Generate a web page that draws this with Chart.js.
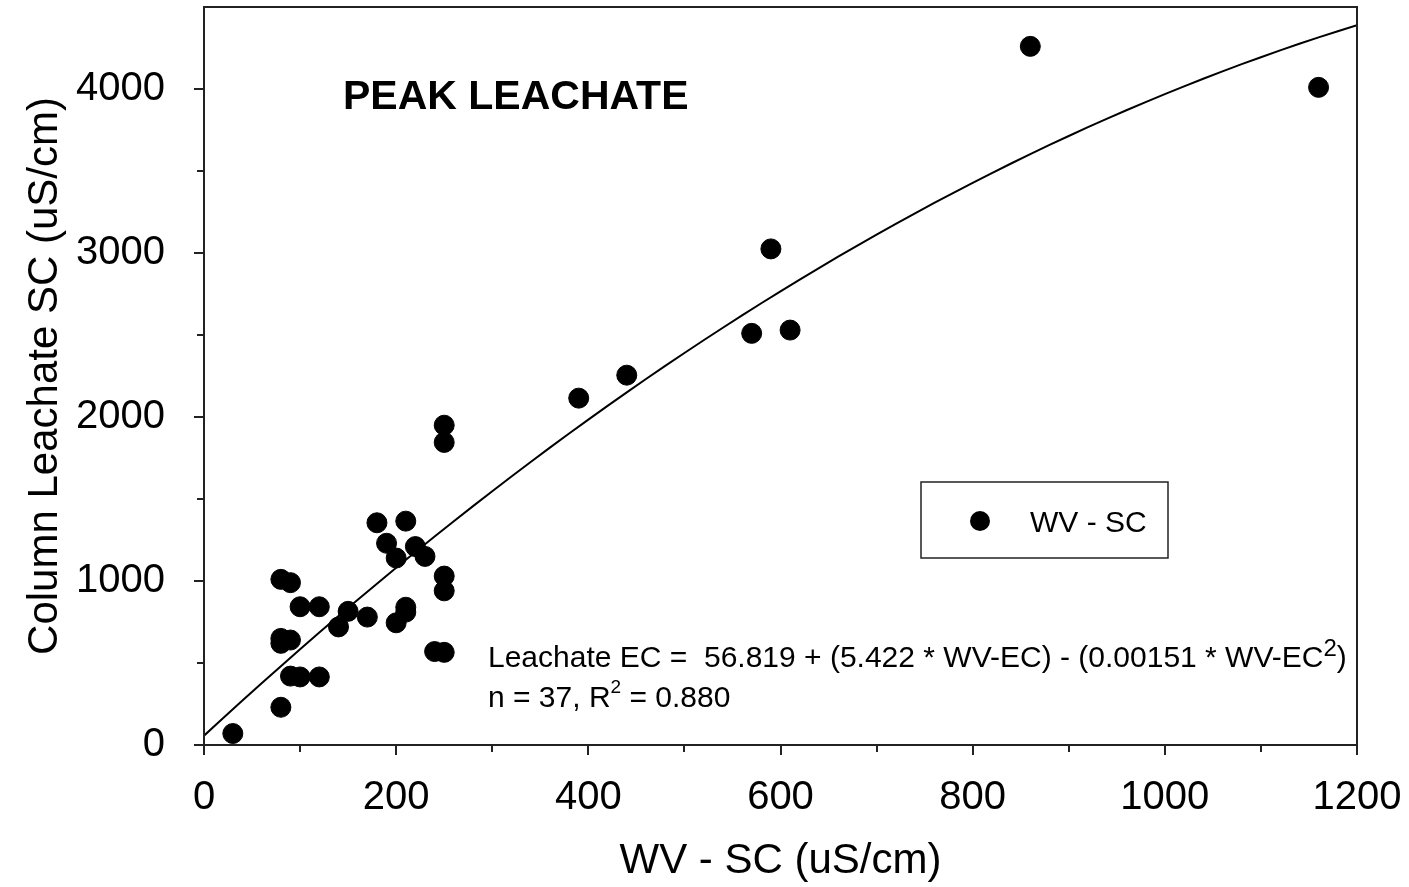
<!DOCTYPE html>
<html>
<head>
<meta charset="utf-8">
<script src="https://cdn.jsdelivr.net/npm/chart.js@4.4.0/dist/chart.umd.min.js"></script>
<style>
  html, body { margin: 0; padding: 0; background: #fff; }
  #wrap { width: 1409px; height: 887px; }
</style>
</head>
<body>
<div id="wrap"><canvas id="myChart"></canvas></div>
<script>
const ctx = document.querySelector('#myChart');

// peak leachate vs. WV specific conductance
const wvSC = [30, 80, 90, 100, 120, 80, 80, 90, 80, 90,
  100, 120, 140, 150, 170, 180, 190, 200, 200, 210,
  210, 210, 220, 230, 240, 250, 250, 250, 250, 250,
  390, 440, 570, 590, 610, 860, 1160]
const leachateSC = [70, 230, 420, 415, 415, 620, 650, 640, 1010, 990,
  843, 843, 720, 815, 780, 1355, 1230, 1140, 745, 840,
  810, 1365, 1210, 1150, 570, 565, 1030, 940, 1950, 1845,
  2115, 2255, 2510, 3025, 2530, 4260, 4010]

const xTickLabels = [0, 200, 400, 600, 800, 1000, 1200]
const yTickLabels = [0, 1000, 2000, 3000, 4000]

// regression printed on the chart: a + b*x + c*x^2
const fitCoef = [56.819, 5.422, -0.00151]
const fitX = []
for (let x = 0; x <= 1200; x += 20) fitX.push(x)
const fitPoints = fitX.map(x => ({ x: x, y: fitCoef[0] + fitCoef[1] * x + fitCoef[2] * x * x }))

const FONT = "'Liberation Sans', Arial, sans-serif"
const AXIS = '#222'

const decorations = {
  id: 'decorations',
  afterDraw(chart) {
    const c = chart.ctx
    const area = chart.chartArea
    const xs = chart.scales.x
    const ys = chart.scales.y
    c.save()
    c.strokeStyle = AXIS
    c.lineWidth = 2
    c.strokeRect(area.left, area.top, area.right - area.left, area.bottom - area.top)

    // tick marks, major longer than minor
    c.beginPath()
    xs.ticks.forEach(t => {
      const px = Math.round(xs.getPixelForValue(t.value))
      const len = xTickLabels.includes(t.value) ? 10 : 7
      c.moveTo(px, area.bottom)
      c.lineTo(px, area.bottom + len)
    })
    ys.ticks.forEach(t => {
      if (t.value >= ys.max) return
      const py = Math.round(ys.getPixelForValue(t.value))
      const len = yTickLabels.includes(t.value) ? 10 : 7
      c.moveTo(area.left, py)
      c.lineTo(area.left - len, py)
    })
    c.stroke()

    c.fillStyle = '#000'
    c.textBaseline = 'alphabetic'
    c.textAlign = 'left'
    c.font = 'bold 41px ' + FONT
    c.fillText('PEAK LEACHATE', 343, 109)

    // equation text with superscripts
    const drawRuns = (runs, x, y) => {
      runs.forEach(r => {
        c.font = r.size + 'px ' + FONT
        c.fillText(r.text, x, y - (r.rise || 0))
        x += c.measureText(r.text).width
      })
    }
    drawRuns([
      { text: 'Leachate EC =  56.819 + (5.422 * WV-EC) - (0.00151 * WV-EC', size: 30 },
      { text: '2', size: 24, rise: 11 },
      { text: ')', size: 30 }
    ], 488, 667)
    drawRuns([
      { text: 'n = 37, R', size: 30 },
      { text: '2', size: 19, rise: 14 },
      { text: ' = 0.880', size: 30 }
    ], 488, 707)

    // legend box
    c.lineWidth = 1.5
    c.strokeStyle = AXIS
    c.strokeRect(921, 482, 247, 76)
    c.beginPath()
    c.arc(980, 521, 10, 0, Math.PI * 2)
    c.fill()
    c.font = '30px ' + FONT
    c.fillText('WV - SC', 1030, 532)
    c.restore()
  }
}

const data = {
  datasets: [{
    type: 'scatter',
    label: 'WV - SC',
    data: wvSC.map((x, i) => ({ x: x, y: leachateSC[i] })),
    backgroundColor: '#000',
    borderColor: '#000',
    pointRadius: 10,
    pointHoverRadius: 10,
    order: 1
  }, {
    type: 'line',
    label: 'fit',
    data: fitPoints,
    borderColor: '#000',
    borderWidth: 2,
    pointRadius: 0,
    fill: false,
    order: 2
  }]
}

const config = {
  type: 'scatter',
  data: data,
  options: {
    responsive: true,
    maintainAspectRatio: false,
    animation: false,
    layout: { autoPadding: false, padding: { top: 7, right: 52, left: 0, bottom: 0 } },
    plugins: {
      legend: { display: false },
      tooltip: { enabled: false }
    },
    scales: {
      x: {
        type: 'linear',
        min: 0,
        max: 1200,
        afterFit: s => { s.height = 142; s.paddingLeft = 0; s.paddingRight = 0 },
        ticks: {
          stepSize: 100,
          autoSkip: false,
          maxRotation: 0,
          padding: 29,
          color: '#000',
          font: { family: FONT, size: 40 },
          callback: v => xTickLabels.includes(v) ? String(v) : ''
        },
        grid: { drawOnChartArea: false, drawTicks: false },
        border: { display: false },
        title: {
          display: true,
          text: 'WV - SC (uS/cm)',
          color: '#000',
          font: { family: FONT, size: 42 },
          padding: { top: 0, bottom: 0 }
        }
      },
      y: {
        type: 'linear',
        min: 0,
        max: 4500,
        afterFit: s => { s.width = 204; s.paddingTop = 0; s.paddingBottom = 0 },
        ticks: {
          stepSize: 500,
          autoSkip: false,
          padding: 39,
          color: '#000',
          font: { family: FONT, size: 40 },
          callback: v => yTickLabels.includes(v) ? String(v) : ''
        },
        grid: { drawOnChartArea: false, drawTicks: false },
        border: { display: false },
        title: {
          display: true,
          text: 'Column Leachate SC (uS/cm)',
          color: '#000',
          font: { family: FONT, size: 42 },
          padding: { top: 20, bottom: 0 }
        }
      }
    }
  },
  plugins: [decorations]
}

const myChart = new Chart(ctx, config)
</script>
</body>
</html>
